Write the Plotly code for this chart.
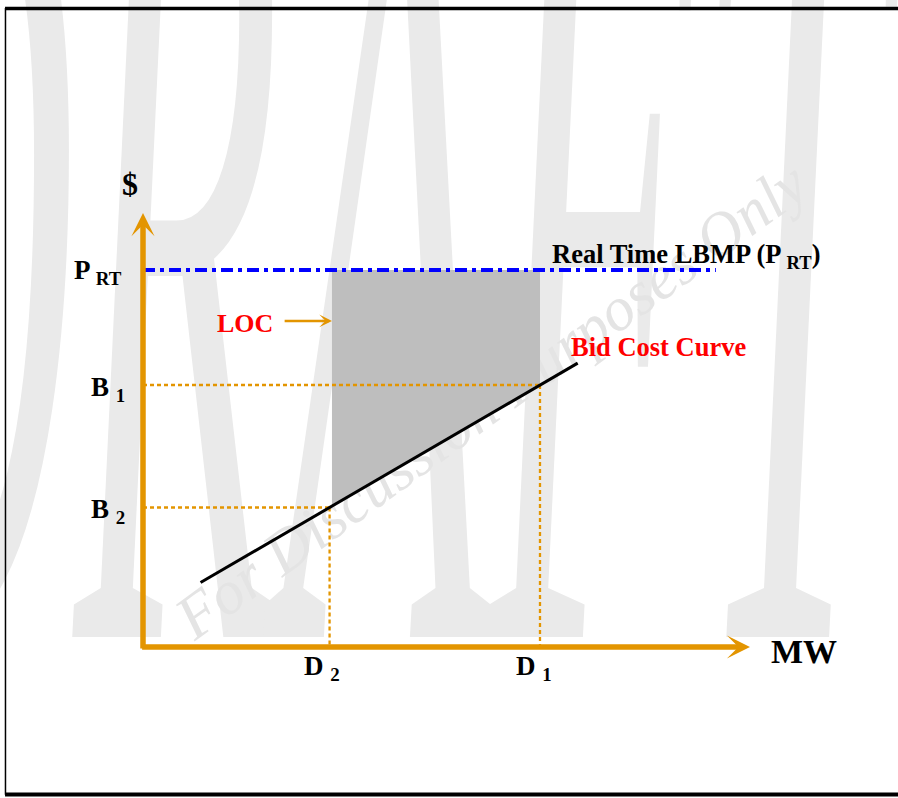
import plotly.graph_objects as go

# ---- data (MW on x, $ on y) ----
D2 = 47.0          # MW
D1 = 100.0         # MW
B2 = 37.0          # $
B1 = 69.5          # $
P_RT = 100.0       # $
bid_x = [14.5, 47.0, 100.0, 109.5]
bid_y = [17.1, 37.0, 69.5, 75.3]
lbmp_x = [0.0, 144.3]
x_axis_end = 152.9
y_axis_end = 115.1
loc_arrow_tail = 35.3
loc_level = 86.5

ORANGE = "#E39500"
SERIF = "Liberation Serif"

fig = go.Figure()

# LOC area (between real-time price and bid curve, D2..D1)
fig.add_trace(go.Scatter(
    x=[D2 + 0.6, D2 + 0.6, D1, D1, D2], y=[B2, P_RT, P_RT, B1, B2],
    mode="lines", fill="toself", fillcolor="#BEBEBE",
    line=dict(width=0, color="#BEBEBE"), hoverinfo="skip"))

dot = dict(color=ORANGE, width=2.3, dash="4px,3px")
fig.add_trace(go.Scatter(x=[0, D1], y=[B1, B1], mode="lines", line=dot, hoverinfo="skip"))
fig.add_trace(go.Scatter(x=[D1, D1], y=[B1, 0], mode="lines", line=dot, hoverinfo="skip"))
fig.add_trace(go.Scatter(x=[0, D2], y=[B2, B2], mode="lines", line=dot, hoverinfo="skip"))
fig.add_trace(go.Scatter(x=[D2, D2], y=[B2, 0], mode="lines", line=dot, hoverinfo="skip"))

# Real time LBMP
fig.add_trace(go.Scatter(x=lbmp_x, y=[P_RT, P_RT], mode="lines",
                         line=dict(color="#0000FF", width=4, dash="12px,5px,4px,5px"),
                         hoverinfo="skip"))
# Bid cost curve
fig.add_trace(go.Scatter(x=bid_x, y=bid_y, mode="lines",
                         line=dict(color="black", width=3), hoverinfo="skip"))

# axes as arrows
fig.add_annotation(x=0, y=y_axis_end, ax=0, ay=-0.8, xref="x", yref="y", axref="x", ayref="y",
                   showarrow=True, arrowhead=3, arrowsize=0.7, arrowwidth=5.5,
                   arrowcolor=ORANGE, text="")
fig.add_annotation(x=x_axis_end, y=0, ax=-0.6, ay=0, xref="x", yref="y", axref="x", ayref="y",
                   showarrow=True, arrowhead=3, arrowsize=0.7, arrowwidth=5.5,
                   arrowcolor=ORANGE, text="")
# LOC arrow
fig.add_annotation(x=D2 + 0.6, y=loc_level, ax=loc_arrow_tail, ay=loc_level,
                   xref="x", yref="y", axref="x", ayref="y",
                   showarrow=True, arrowhead=3, arrowsize=0.85, arrowwidth=2.5,
                   arrowcolor=ORANGE, text="")

def label(text, x, y, xanchor="center", yanchor="middle", size=26, color="black"):
    fig.add_annotation(x=x, y=y, xref="x", yref="y", text=text, showarrow=False,
                       xanchor=xanchor, yanchor=yanchor,
                       font=dict(family=SERIF, size=size, color=color, weight="bold"))

label("$", -3.3, 122.8, size=32)
label("P <sub>RT</sub>", -4.8, P_RT - 0.5, xanchor="right", size=27)
label("B <sub>1</sub>", -4.0, B1 - 1.0, xanchor="right", size=27)
label("B <sub>2</sub>", -4.0, B2 - 1.0, xanchor="right", size=27)
label("D <sub>2</sub>", D2 - 2.0, -0.5, yanchor="top", size=27)
label("D <sub>1</sub>", D1 - 1.6, -0.5, yanchor="top", size=27)
label("MW", 166.5, -1.3, size=34)
label("Real Time LBMP (P <sub>RT</sub>)", 102.4, 103.6, xanchor="left", size=26.5)
label("LOC", 33.3, 85.7, xanchor="right", size=26, color="#FF0000")
label("Bid Cost Curve", 107.3, 79.6, xanchor="left", size=26.5, color="#FF0000")

# watermarks (below the chart marks)
fig.add_shape(type="rect", xref="x", yref="y", x0=53, x1=55, y0=124, y1=126,
              layer="below", line=dict(width=0), fillcolor="rgba(0,0,0,0)",
              label=dict(text="DRAFT", textposition="middle center", textangle=0,
                         font=dict(family=SERIF, size=340, color="#EAEAEA", style="italic")))
fig.add_shape(type="rect", xref="x", yref="y", x0=85.6, x1=87.6, y0=66.0, y1=68.0,
              layer="below", line=dict(width=0), fillcolor="rgba(0,0,0,0)",
              label=dict(text="For Discussion Purposes Only", textposition="middle center",
                         textangle=-36,
                         font=dict(family=SERIF, size=62, color="#E4E4E4", style="italic")))

# frame
fig.add_shape(type="line", xref="paper", yref="paper", x0=0.0056, x1=1.0, y0=0.9894, y1=0.9894,
              line=dict(color="black", width=3.5))
fig.add_shape(type="line", xref="paper", yref="paper", x0=0.0061, x1=0.0061, y0=0.004, y1=0.99,
              line=dict(color="black", width=1.5))
fig.add_shape(type="line", xref="paper", yref="paper", x0=0.0056, x1=1.0, y0=0.0045, y1=0.0045,
              line=dict(color="black", width=4))

fig.update_layout(
    width=898, height=798, margin=dict(l=0, r=0, t=0, b=0),
    paper_bgcolor="white", plot_bgcolor="white", showlegend=False,
    xaxis=dict(range=[-36.02, 190.18], visible=False, fixedrange=True),
    yaxis=dict(range=[-40.05, 171.62], visible=False, fixedrange=True),
    hovermode=False,
)

post = """
document.body.style.margin='0';
document.body.style.overflow='hidden';
var gd=document.getElementById('{plot_id}');
function stretchDraft(){
  var ts=gd.querySelectorAll('text');
  for (var i=0;i<ts.length;i++){
    if (ts[i].textContent==='DRAFT'){
      ts[i].style.transformBox='fill-box';
      ts[i].style.transformOrigin='center';
      ts[i].style.transform='scaleY(3.7)';
    }
  }
}
stretchDraft();
setTimeout(stretchDraft,50);
setTimeout(stretchDraft,300);
if (gd.on) { gd.on('plotly_afterplot', stretchDraft); }
"""
fig.write_html("out.html", post_script=post, config={"staticPlot": True})
